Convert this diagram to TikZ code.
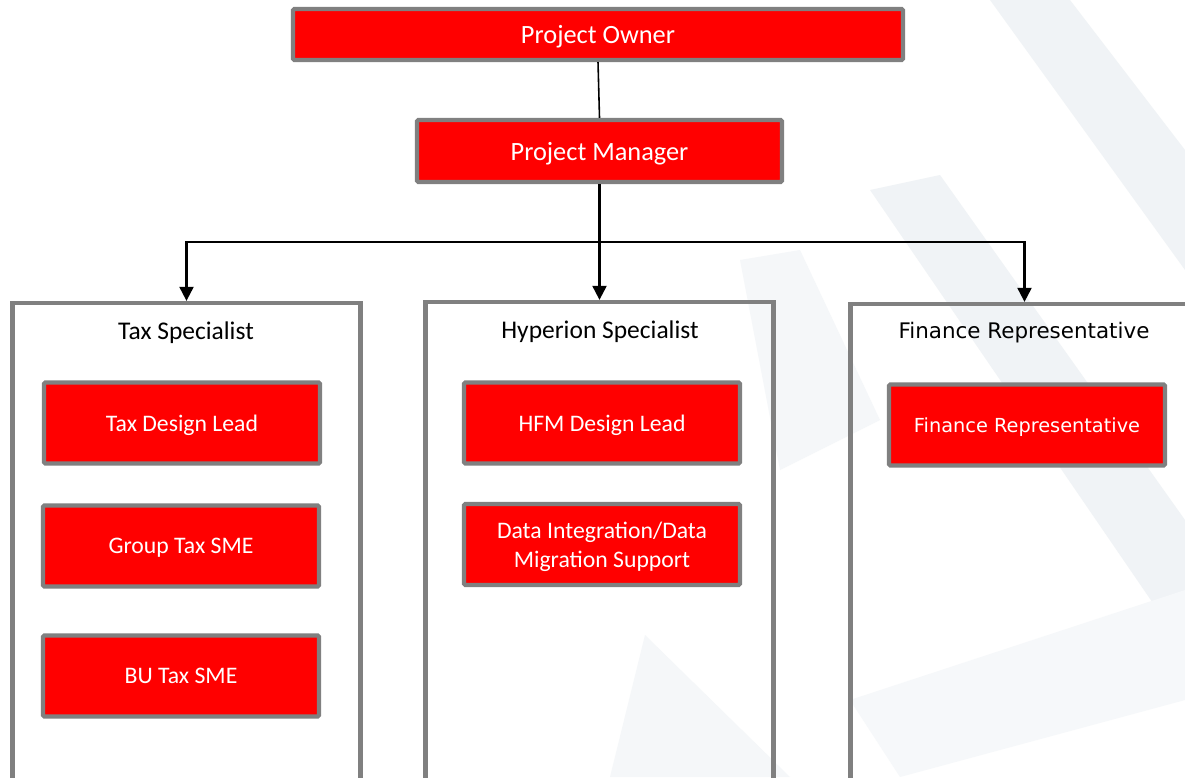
\documentclass[tikz,border=0pt]{standalone}
\usepackage{fontspec}
\setmainfont{Carlito}
\newfontfamily\verdfont{DejaVu Sans}
\usetikzlibrary{arrows.meta}

\definecolor{boxred}{RGB}{255,0,0}
\definecolor{boxgray}{RGB}{128,128,128}
\definecolor{swoosh}{RGB}{240,243,246}

\tikzset{
  redbox/.style={draw=boxgray, line width=2.4pt, fill=boxred, text=white,
    minimum width=5.52cm, minimum height=1.62cm, align=center, inner sep=0pt,
    rounded corners=0.8pt, text depth=0pt, font=\fontsize{13.5}{16.5}\selectfont},
  colbox/.style={draw=boxgray, line width=2.5pt, minimum width=6.96cm,
    minimum height=10cm, inner sep=0pt},
  coltitle/.style={text=black, text depth=0pt, font=\fontsize{14.5}{17}\selectfont},
  link/.style={line width=1.2pt, -{Triangle[width=8pt,length=8pt]}},
}

\begin{document}
\begin{tikzpicture}[x=0.02cm, y=-0.02cm]
            \clip (0,0) rectangle (1185,777);
            \fill [white] (0,0) rectangle (1185,777);
            \fill [swoosh] (990,0) -- (1070,0) -- (1185,150) -- (1185,270) -- cycle;
            \fill [swoosh] (870,190) -- (940,175) -- (1185,520) -- (1185,650) -- cycle;
            \fill [swoosh!70!white] (740,260) -- (800,250) -- (880,420) -- (780,470) -- cycle;
            \fill [swoosh!70!white] (610,777) -- (645,635) -- (790,777) -- cycle;
            \fill [swoosh!60!white] (850,700) -- (1185,590) -- (1185,700) -- (900,777) -- cycle;

            \node [redbox, minimum width=12.2cm, minimum height=1.02cm,
                font=\fontsize{15}{18}\selectfont] (owner) at (598,34.5) {Project Owner};
            \node [redbox, minimum width=7.3cm, minimum height=1.24cm,
                font=\fontsize{15}{18}\selectfont] (manager) at (599.5,151) {Project Manager};

            \node [colbox] (tax) at (186.5,553) {};
            \node [colbox] (hyp) at (599.5,552) {};
            \node [colbox] (fin) at (1024.5,554) {};

            \node [coltitle] (taxtitle) at (186,331) {Tax Specialist};
            \node [coltitle] (hyptitle) at (600,330) {Hyperion Specialist};
            \node [coltitle, font=\verdfont\fontsize{12.2}{15}\selectfont] (fintitle)
                at (1024,330) {Finance Representative};

            \node [redbox] (taxlead) at (182,423) {Tax Design Lead};
            \node [redbox] (grouptax) at (181,546) {Group Tax SME};
            \node [redbox] (butax) at (181,676) {BU Tax SME};
            \node [redbox] (hfmlead) at (602,423) {HFM Design Lead};
            \node [redbox] (datamig) at (602,544.5) {Data Integration/Data\\Migration Support};
            \node [redbox, font=\verdfont\fontsize{11}{14}\selectfont] (finrep)
                at (1027,425) {Finance Representative};

            \draw [line width=0.9pt] (owner.south) -- (manager.north);
            \draw [line width=1.5pt] (manager.south) -- (599.5,242) coordinate (split);
            \draw [link] (split) -| (tax.north);
            \draw [link] (split) -- (hyp.north);
            \draw [link] (split) -| (fin.north);
        \end{tikzpicture}
\end{document}
